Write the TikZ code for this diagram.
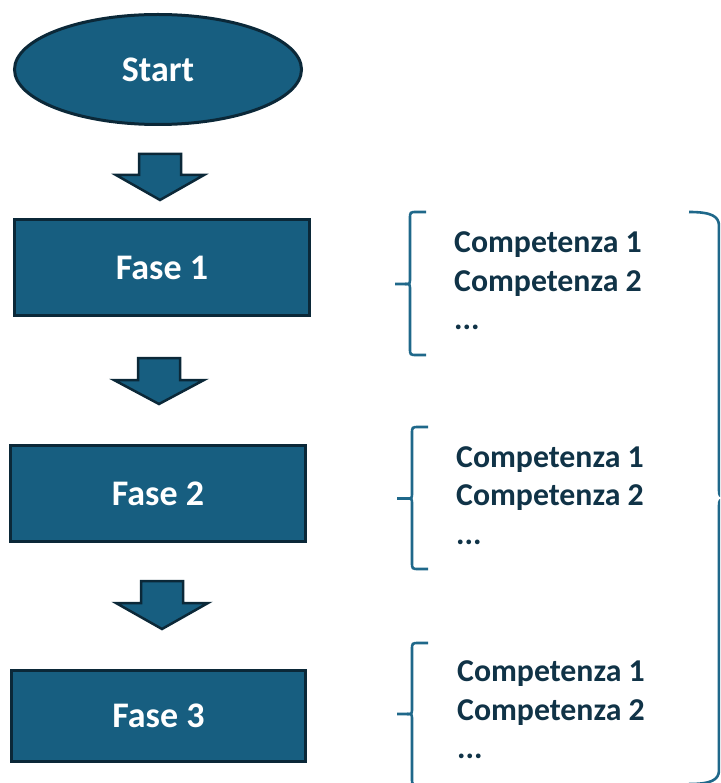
\documentclass[tikz,border=0pt]{standalone}
\usepackage{fontspec}
\setmainfont{Carlito}
\usetikzlibrary{shapes.geometric}
\definecolor{boxfill}{RGB}{23,94,128}
\definecolor{boxline}{RGB}{11,40,56}
\definecolor{bracecol}{RGB}{31,104,138}
\definecolor{txtdark}{RGB}{16,51,71}
\tikzset{
  phase/.style={draw=boxline, line width=3pt, fill=boxfill, text=white,
    font=\fontsize{36}{43}\selectfont\bfseries, inner sep=0pt},
  phasebox/.style={phase, rectangle},
  blockarrow/.style={draw=boxline, line width=2.5pt, fill=boxfill, line join=miter},
  bracestyle/.style={draw=bracecol, line width=2.6pt, line cap=butt},
  complist/.style={text=txtdark, font=\fontsize{31.8}{38.5}\selectfont\bfseries,
    align=left, anchor=north west, inner sep=0pt}
}
\newcommand{\lbracepath}[5]{% x, top, mid, bottom, tip
  \draw[bracestyle] ({#1+16},#2) -- ({#1+7},#2) .. controls (#1,#2) .. (#1,{#2+7})
    -- (#1,{#3-6}) .. controls (#1,#3) .. ({#1-5},#3) -- (#5,#3);
  \draw[bracestyle] ({#1-5},#3) .. controls (#1,#3) .. (#1,{#3+6})
    -- (#1,{#4-7}) .. controls (#1,#4) .. ({#1+7},#4) -- ({#1+16},#4);
}
\newcommand{\downarrowblock}[5]{% cx, shaft top, head base, tip, head half
  \draw[blockarrow] ({#1-21},#2) -- ({#1+21},#2) -- ({#1+21},#3) -- ({#1+#5},#3)
    -- (#1,#4) -- ({#1-#5},#3) -- ({#1-21},#3) -- cycle;
}
\begin{document}
\begin{tikzpicture}[x=1pt,y=-1pt]
\useasboundingbox (0,0) rectangle (720,783);
\clip (0,0) rectangle (720,783);

% nodes
\node[phase, ellipse, minimum width=287pt, minimum height=110pt] (start) at (158,69.5) {Start};
\node[phasebox, minimum width=295pt, minimum height=96pt] (f1) at (162,267.5) {Fase 1};
\node[phasebox, minimum width=295pt, minimum height=96pt] (f2) at (158,493.5) {Fase 2};
\node[phasebox, minimum width=294pt, minimum height=91pt] (f3) at (158.5,716) {Fase 3};

% block arrows between nodes
\downarrowblock{160}{154}{175}{200}{44}
\downarrowblock{159}{358}{380}{404}{45}
\downarrowblock{162}{581}{603}{629}{46}

% competence lists
\node[complist] (c1) at (454,231.5) {Competenza 1\\Competenza 2\\...};
\node[complist] (c2) at (456,446) {Competenza 1\\Competenza 2\\...};
\node[complist] (c3) at (457,660.5) {Competenza 1\\Competenza 2\\...};

% left braces
\lbracepath{410}{212}{284}{355}{395}
\lbracepath{412}{427}{498.5}{569}{397}
\lbracepath{412}{643}{714}{785}{397}

% big right brace
\draw[bracestyle] (689,212) .. controls (711,212) and (719,216) .. (719,226)
  -- (719,490) .. controls (719,496) .. (727,498);
\draw[bracestyle] (727,498) .. controls (719,500) .. (719,506)
  -- (719,770) .. controls (719,780) and (711,784) .. (689,784);
\end{tikzpicture}
\end{document}
